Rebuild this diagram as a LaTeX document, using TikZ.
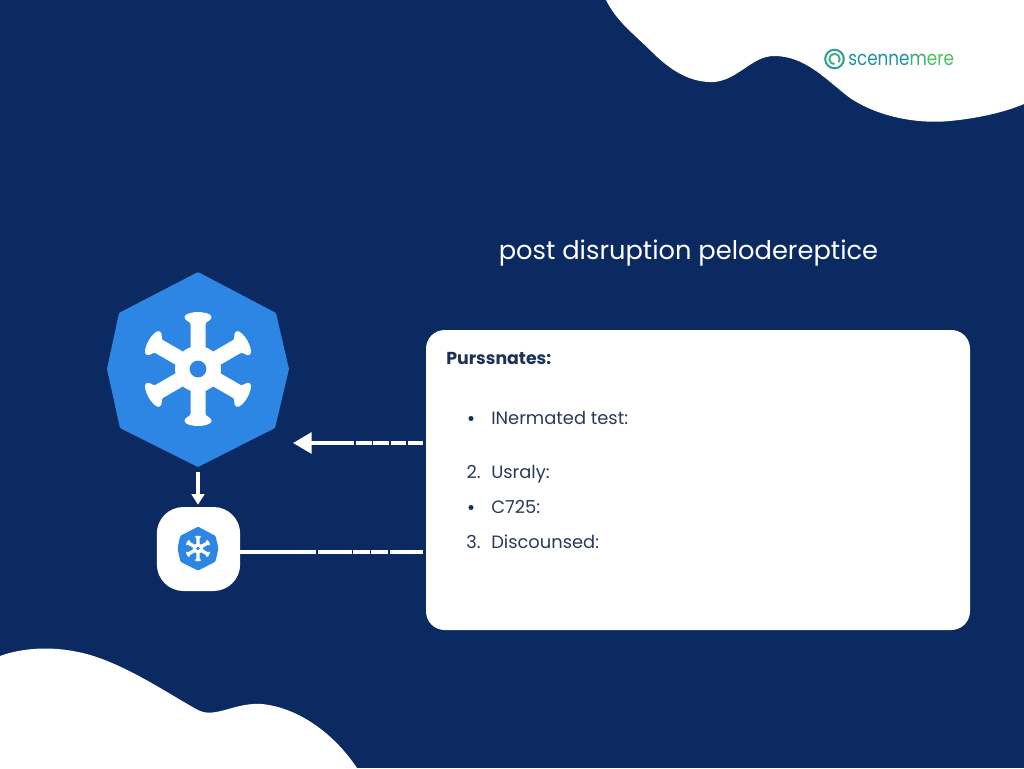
\documentclass[tikz,border=0pt]{standalone}
\usepackage{graphicx}
\usepackage{fontspec}
\setmainfont{Poppins}
\usetikzlibrary{arrows.meta}
\definecolor{navy}{HTML}{0A2A61}
\definecolor{hubblue}{HTML}{2E86E4}
\definecolor{inkdark}{HTML}{1B3157}
\definecolor{inkbody}{HTML}{2A3A58}
\definecolor{logoteal}{HTML}{2390A8}
\definecolor{logogreen}{HTML}{4CC25C}
\tikzset{
  x=.75pt,y=-.75pt,
  wheel/.pic={
    \foreach \a in {0,60,...,300}{
      \fill[white,rotate=\a] (-7.5,0) -- (-7.5,-45)
        .. controls (-7.5,-47.5) and (-13.5,-48) .. (-13.5,-52)
        .. controls (-13.5,-55.5) and (-5,-57) .. (0,-57)
        .. controls (5,-57) and (13.5,-55.5) .. (13.5,-52)
        .. controls (13.5,-48) and (7.5,-47.5) .. (7.5,-45)
        -- (7.5,0) -- cycle;
    }
    \fill[white] (0,0) circle (23);
    \fill[hubblue] (0,0) circle (8.4);
  },
  hubshape/.pic={
    \fill[hubblue,rounded corners=.8pt] (0,-97) -- (78,-56) -- (91,0) -- (77,59) -- (0,98) -- (-78,59) -- (-91,0) -- (-79,-56) -- cycle;
  },
  cardbox/.style={fill=white,minimum width=408pt,minimum height=225pt,rounded corners=14pt,inner sep=0pt},
  smallbox/.style={fill=white,minimum width=62.5pt,minimum height=63pt,rounded corners=20pt,inner sep=0pt},
  bodytext/.style={anchor=base west,inner sep=0pt,text=inkbody,font=\fontsize{13.4pt}{15pt}\selectfont},
  numtext/.style={anchor=base east,inner sep=0pt,text=inkbody,font=\fontsize{13.4pt}{15pt}\selectfont},
  bulletdot/.style={circle,fill=inkdark,minimum size=3.8pt,inner sep=0pt},
  link/.style={white,line width=3pt},
}
\begin{document}
\begin{tikzpicture}
\useasboundingbox (0,0) rectangle (1024,768);
\fill[navy] (0,0) rectangle (1024,768);
% blobs
\fill[white] (606,0) .. controls (617,22) and (634,34) .. (652,52)
  .. controls (670,70) and (690,83) .. (714,82)
  .. controls (738,80) and (752,56) .. (774,56)
  .. controls (806,56) and (826,80) .. (850,98)
  .. controls (880,118) and (920,124) .. (950,121)
  .. controls (980,118) and (1005,112) .. (1024,104)
  -- (1024,0) -- cycle;
\fill[white] (0,656) .. controls (22,648) and (50,646) .. (78,652)
  .. controls (120,660) and (170,695) .. (198,710)
  .. controls (215,719) and (235,702) .. (262,704)
  .. controls (300,708) and (335,735) .. (357,768)
  -- (0,768) -- cycle;
% logo
\draw[logoteal!70!logogreen,line width=1.5pt] (834.5,59) circle (9.3);
\draw[logoteal!40!logogreen,line width=1.4pt] (834.5,64.2) arc (90:400:5.2);
\node[anchor=base west,inner sep=0pt,font=\fontsize{15.2pt}{18pt}\selectfont] (logo) at (848,65)
  {\scalebox{.83}[1]{\textcolor{logoteal}{scenne}\textcolor{logoteal!45!logogreen}{m}\textcolor{logogreen}{ere}}};
% title
\node[anchor=base,inner sep=0pt,text=white,font=\fontsize{19.3pt}{22pt}\selectfont] (title) at (688.5,259) {post disruption pelodereptice};
% card
\node[cardbox] (card) at (698,480) {};
\node[anchor=base west,inner sep=0pt,text=inkdark,font=\fontsize{13pt}{15pt}\selectfont\bfseries] (head) at (446,364) {Purssnates:};
\node[bulletdot] (b1) at (471,418.5) {};
\node[bodytext] (t1) at (491,424) {INermated test:};
\node[numtext] (n2) at (481,478) {2.};
\node[bodytext] (t2) at (491,478) {Usraly:};
\node[bulletdot] (b3) at (471,507.5) {};
\node[bodytext] (t3) at (491,513) {C725:};
\node[numtext] (n3) at (481,548) {3.};
\node[bodytext] (t4) at (491,548) {Discounsed:};
% big hub
\node[minimum size=146pt,inner sep=0pt] (hub) at (198,369) {};
\pic at (hub.center) {hubshape};
\pic at (hub.center) {wheel};
% small node
\node[smallbox] (small) at (198.5,549) {};
\begin{scope}[shift={(198,548.5)},scale=.225]
\pic[transform shape] {hubshape};
\pic[transform shape] {wheel};
\end{scope}
% connectors
\coordinate (cardtop) at (423,443);
\coordinate (hubin) at (293,443);
\coordinate (cardlow) at (423,552);
\draw[link,dash pattern=on 11pt off 1.4pt on 11.7pt off 1.4pt on 11.7pt off 1.4pt on 11.7pt off 1.4pt on 80pt off 0pt,
  -{Triangle[length=14pt,width=15.5pt]}] (cardtop) -- (hubin);
\draw[link,dash pattern=on 57pt off 1pt on 25.5pt off 1pt on 13pt off .4pt on 13pt off 1pt on 80pt off 0pt]
  (small.east |- cardlow) -- (cardlow);
\draw[white,line width=2.4pt,-{Triangle[length=8pt,width=9.5pt]}] ([yshift=-4pt]hub.south) -- ([yshift=1.5pt]hub.south |- small.north);
\end{tikzpicture}
\end{document}
